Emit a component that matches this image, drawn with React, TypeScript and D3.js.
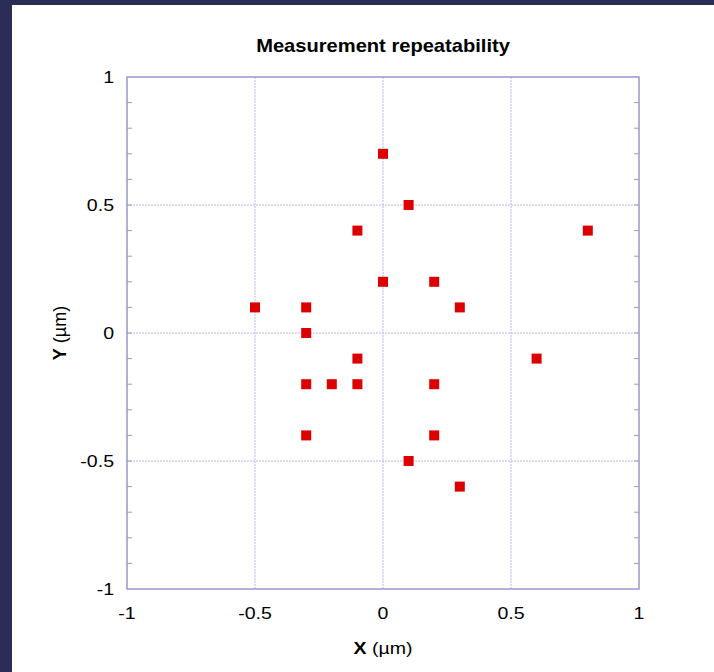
import React from "react";
import * as d3 from "d3";

// Measurement offsets (µm)
const xValues = [0, 0.1, -0.1, 0.8, 0, 0.2, -0.5, -0.3, 0.3, -0.3, -0.1, 0.6, -0.3, -0.2, -0.1, 0.2, -0.3, 0.2, 0.1, 0.3];
const yValues = [0.7, 0.5, 0.4, 0.4, 0.2, 0.2, 0.1, 0.1, 0.1, 0, -0.1, -0.1, -0.2, -0.2, -0.2, -0.2, -0.4, -0.4, -0.5, -0.6];
const majorTicks = [-1, -0.5, 0, 0.5, 1];
const minorTicks = d3.range(-9, 10).map((d) => d / 10);

const W = 714;
const H = 672;
const left = 127, right = 639, top = 77, bottom = 589;
const SX = 1.15; // horizontal stretch of the text

function Label(props: { x: number; y: number; anchor: string; size: number; bold?: boolean; children: React.ReactNode }) {
  return (
    <text
      transform={`translate(${props.x},${props.y}) scale(${SX},1)`}
      textAnchor={props.anchor}
      fontSize={props.size}
      fontWeight={props.bold ? "bold" : "normal"}
      fill="#000"
    >
      {props.children}
    </text>
  );
}

export default function App() {
  const x = d3.scaleLinear().domain([-1, 1]).range([left, right]);
  const y = d3.scaleLinear().domain([-1, 1]).range([bottom, top]);
  const frame = "#9898c8";
  const grid = "#b8b8e4";
  const font = "Liberation Sans, Arial, sans-serif";
  const size = 10;
  return (
    <svg width={W} height={H} style={{ position: "absolute", left: 0, top: 0 }} fontFamily={font}>
      <rect x={0} y={0} width={W} height={H} fill="#2b2d57" />
      <rect x={12} y={5} width={W - 12} height={H - 5} fill="#ffffff" />
      <Label x={(left + right) / 2} y={52} anchor="middle" size={17.5} bold>
        Measurement repeatability
      </Label>
      {/* grid lines */}
      {majorTicks.filter((t) => t > -1 && t < 1).map((t) => (
        <g key={"g" + t}>
          <line x1={x(t)} x2={x(t)} y1={top} y2={bottom} stroke={grid} strokeWidth={1} strokeDasharray="2,1" />
          <line x1={left} x2={right} y1={y(t)} y2={y(t)} stroke={grid} strokeWidth={1} strokeDasharray="2,1" />
        </g>
      ))}
      {/* minor ticks on left and right */}
      {minorTicks.map((t) => (
        <g key={"m" + t}>
          <line x1={left} x2={left + 5} y1={y(t)} y2={y(t)} stroke={frame} strokeWidth={1} />
          <line x1={right} x2={right - 5} y1={y(t)} y2={y(t)} stroke={frame} strokeWidth={1} />
        </g>
      ))}
      <rect x={left} y={top} width={right - left} height={bottom - top} fill="none" stroke={frame} strokeWidth={1.5} />
      {/* tick labels */}
      {majorTicks.map((t) => (
        <Label key={"xl" + t} x={x(t)} y={619} anchor="middle" size={17}>
          {String(t)}
        </Label>
      ))}
      {majorTicks.map((t) => (
        <Label key={"yl" + t} x={114} y={y(t) + 6} anchor="end" size={17}>
          {String(t)}
        </Label>
      ))}
      <Label x={(left + right) / 2} y={654} anchor="middle" size={17}>
        <tspan fontWeight="bold">X</tspan> (µm)
      </Label>
      <text transform={`translate(66,${(top + bottom) / 2}) rotate(-90)`} textAnchor="middle" fontSize={18} fill="#000">
        <tspan fontWeight="bold">Y</tspan> (µm)
      </text>
      {/* points */}
      {xValues.map((xv, i) => (
        <rect key={"p" + i} x={x(xv) - size / 2} y={y(yValues[i]) - size / 2} width={size} height={size} fill="#dd0000" />
      ))}
    </svg>
  );
}
